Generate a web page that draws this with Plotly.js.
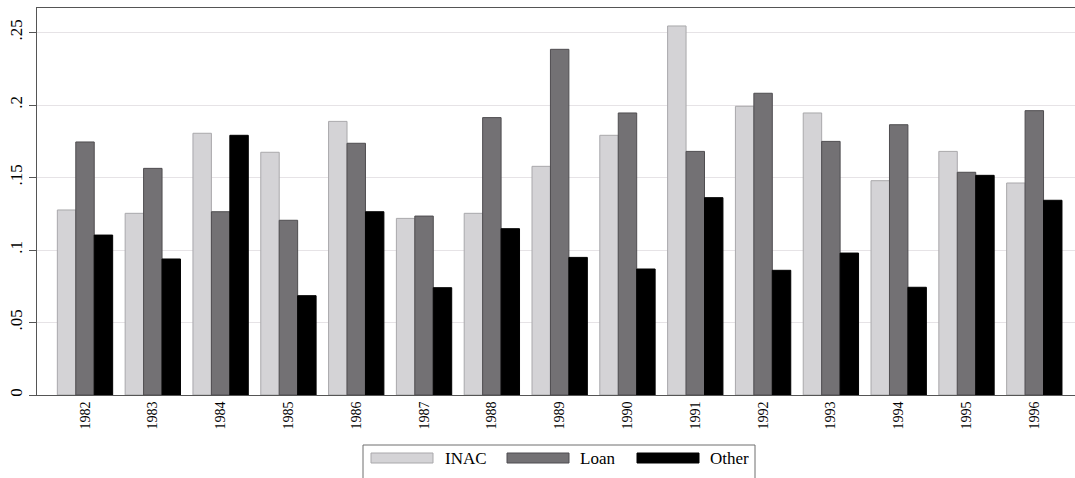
<!DOCTYPE html>
<html>
<head>
<meta charset="utf-8">
<script src="https://cdn.plot.ly/plotly-3.0.1.min.js"></script>
<style>html,body{margin:0;padding:0;background:#fff;}#chart{width:1075px;height:478px;}</style>
</head>
<body>
<div id="chart"></div>
<script>
const years = ["1982","1983","1984","1985","1986","1987","1988","1989","1990","1991","1992","1993","1994","1995","1996"];
const inac  = [0.1276,0.1253,0.1805,0.1674,0.1887,0.1218,0.1253,0.1577,0.1791,0.2545,0.1991,0.1945,0.1478,0.1680,0.1462];
const loan  = [0.1745,0.1563,0.1264,0.1205,0.1736,0.1234,0.1913,0.2384,0.1945,0.1680,0.2081,0.1749,0.1864,0.1536,0.1961];
const other = [0.1103,0.0938,0.1791,0.0685,0.1264,0.0740,0.1147,0.0949,0.0869,0.1361,0.0860,0.0979,0.0743,0.1515,0.1343];
const seriesNames = ["INAC","Loan","Other"];
const yTickVals = [0,0.05,0.1,0.15,0.2,0.25];
const yTickText = ["0",".05",".1",".15",".2",".25"];

const colors = ["#d4d3d6","#737174","#000000"];
const lineColors = ["#a9a8ab","#4f4d50","#000000"];
const values = [inac, loan, other];

const traces = seriesNames.map((n,i)=>({
  type:"bar", name:n, x:years, y:values[i],
  marker:{color:colors[i], line:{color:lineColors[i], width:1}},
  hoverinfo:"x+y"
}));

// pixel -> paper helpers for the custom legend
const L=37, R=1075, T=8, B=395;
const px = x => (x-L)/(R-L);
const py = y => (B-y)/(B-T);

const shapes = [
  {type:"rect", xref:"paper", yref:"paper", x0:px(363), x1:px(755), y0:py(445), y1:py(490),
   line:{color:"#6f6f6f", width:1}, fillcolor:"rgba(0,0,0,0)"}
];
const annotations = [];
const sw = [[371,433,443],[507,569,578],[637,699,708]];
sw.forEach((s,i)=>{
  shapes.push({type:"rect", xref:"paper", yref:"paper", x0:px(s[0]), x1:px(s[1]), y0:py(463), y1:py(453),
    fillcolor:colors[i], line:{color:lineColors[i], width:1}});
  annotations.push({xref:"paper", yref:"paper", x:px(s[2]), y:py(458.5), xanchor:"left", yanchor:"middle",
    text:seriesNames[i], showarrow:false, font:{family:"Liberation Serif", size:17, color:"#000"}});
});

const layout = {
  width:1075, height:478,
  margin:{l:L, r:0, t:T, b:478-B, pad:0},
  paper_bgcolor:"#fff", plot_bgcolor:"#fff",
  barmode:"group", bargap:0.184, bargroupgap:0,
  showlegend:false,
  font:{family:"Liberation Serif", color:"#000"},
  xaxis:{type:"category", range:[-0.708,14.60], showgrid:false, zeroline:false,
    showline:true, mirror:true, linecolor:"#555", linewidth:1,
    ticks:"", tickangle:-90, tickfont:{family:"Liberation Serif", size:14, color:"#000"}},
  yaxis:{range:[0,0.2669], tickvals:yTickVals, ticktext:yTickText,
    showgrid:true, gridcolor:"#e6e3e6", gridwidth:1, zeroline:false,
    showline:true, mirror:true, linecolor:"#555", linewidth:1,
    ticks:"outside", ticklen:7, tickcolor:"#555", tickangle:-90,
    tickfont:{family:"Liberation Serif", size:17, color:"#000"}},
  shapes:shapes, annotations:annotations
};

Plotly.newPlot("chart", traces, layout, {displayModeBar:false, staticPlot:true});
</script>
</body>
</html>
